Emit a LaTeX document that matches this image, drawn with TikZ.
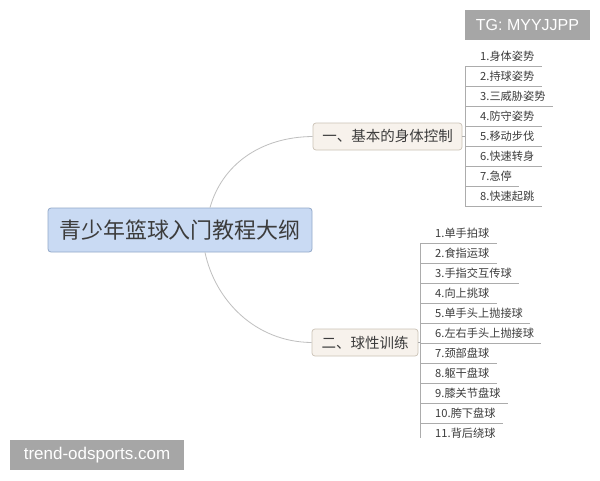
\documentclass[tikz,border=0pt]{standalone}
\usepackage{fontspec}
\setmainfont{Liberation Sans}
\newfontfamily\cjk{Noto Sans CJK SC}
\definecolor{rootfill}{HTML}{C9DAF3}
\definecolor{rootdraw}{HTML}{93A9C9}
\definecolor{brfill}{HTML}{F7F2EC}
\definecolor{brdraw}{HTML}{CBC2B6}
\definecolor{wmgray}{HTML}{A6A6A6}
\definecolor{txt}{HTML}{3C3C3C}
\begin{document}
\begin{tikzpicture}[x=1pt,y=-1pt,
  root/.style={draw=rootdraw, fill=rootfill, rounded corners=3pt, line width=0.8pt,
    minimum width=264pt, minimum height=44pt, inner sep=0pt, text=txt,
    font=\cjk\fontsize{22}{24}\selectfont},
  branch/.style={draw=brdraw, fill=brfill, rounded corners=3pt, line width=0.7pt,
    minimum height=27pt, inner sep=0pt, text=txt,
    font=\cjk\fontsize{14.5}{16}\selectfont},
  leaf/.style={anchor=south west, inner xsep=7pt, inner ysep=0pt, minimum height=20pt,
    text=txt, font=\cjk\fontsize{11.2}{12}\selectfont},
  uline/.style={draw=gray!65, line width=0.8pt},
  link/.style={draw=gray!50, line width=0.8pt},
  wm/.style={fill=wmgray, text=white, inner sep=0pt}
]
\useasboundingbox (0,0) rectangle (600,480);
\fill[white] (0,0) rectangle (600,480);

% root
\node[root] (root) at (180,230) {青少年篮球入门教程大纲};

% branches
\node[branch, minimum width=149pt] (b1) at (387.5,136.5) {一、基本的身体控制};
\node[branch, minimum width=106pt] (b2) at (365,342.5) {二、球性训练};

% connectors root -> branches
\draw[link] ([xshift=30pt]root.north) .. controls (222,165) and (260,137) .. (b1.west);
\draw[link] ([xshift=25pt]root.south) .. controls (215,300) and (255,342) .. (b2.west);

% branch 1 leaves
\coordinate (t1a) at (465,66);
\coordinate (t1b) at (465,206);
\foreach \i/\t in {1/1.身体姿势, 2/2.持球姿势, 3/3.三威胁姿势, 4/4.防守姿势,
                   5/5.移动步伐, 6/6.快速转身, 7/7.急停, 8/8.快速起跳}{
  \node[leaf] (a\i) at (473,46+20*\i) {\t};
  \draw[uline] ([xshift=-8pt]a\i.south west) -- (a\i.south east);
}
\draw[uline] (t1a) -- (t1b);
\draw[uline] (b1.east) -- (b1.east -| t1a);

% branch 2 leaves
\coordinate (t2a) at (420,243);
\coordinate (t2b) at (420,438);
\foreach \i/\t in {1/1.单手拍球, 2/2.食指运球, 3/3.手指交互传球, 4/4.向上挑球,
                   5/5.单手头上抛接球, 6/6.左右手头上抛接球, 7/7.颈部盘球,
                   8/8.躯干盘球, 9/9.膝关节盘球, 10/10.胯下盘球}{
  \node[leaf] (c\i) at (428,223+20*\i) {\t};
  \draw[uline] ([xshift=-8pt]c\i.south west) -- (c\i.south east);
}
\node[leaf] (c11) at (428,443) {11.背后绕球};
\draw[uline] (t2a) -- (t2b);
\draw[uline] (b2.east) -- (b2.east -| t2a);

% watermarks
\node[wm, minimum width=125pt, minimum height=30pt, font=\fontsize{16}{18}\selectfont]
  (wm1) at (527.5,25) {TG: MYYJJPP};
\node[wm, minimum width=174pt, minimum height=30pt, font=\fontsize{17}{19}\selectfont]
  (wm2) at (97,455) {trend-odsports.com};
\end{tikzpicture}
\end{document}
